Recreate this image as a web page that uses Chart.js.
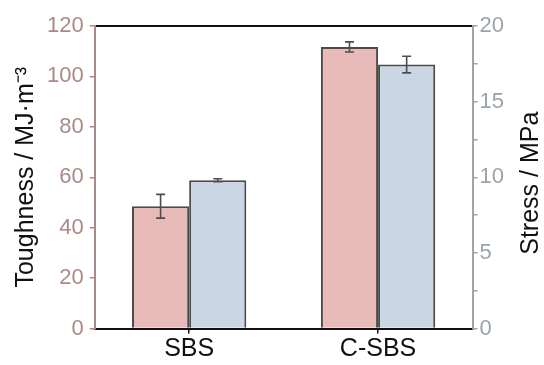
<!DOCTYPE html>
<html>
<head>
<meta charset="utf-8">
<script src="https://cdn.jsdelivr.net/npm/chart.js@4.4.0/dist/chart.umd.min.js"></script>
<style>
  html, body { margin: 0; padding: 0; background: #fff; }
  #wrap { width: 544px; height: 365px; }
</style>
</head>
<body>
<div id="wrap"><canvas id="barChart"></canvas></div>
<script>
  // dados
  const categorias = ['SBS', 'C-SBS'];
  const tenacidade = [48.5, 111.7];      // Toughness / MJ·m-3
  const tenacidadeErro = [4.7, 2.0];
  const tensao = [9.8, 17.45];           // Stress / MPa
  const tensaoErro = [0.1, 0.55];
  const ticksEsquerda = [0, 20, 40, 60, 80, 100, 120];
  const ticksDireita = [0, 5, 10, 15, 20];

  const fonte = 'Liberation Sans, Arial, sans-serif';
  const corEsquerda = '#a98a88';
  const corDireita = '#9ba3ad';

  // barras de erro desenhadas pelas escalas do gráfico
  const barrasDeErro = {
    id: 'barrasDeErro',
    afterDatasetsDraw(chart) {
      const ctx = chart.ctx;
      chart.data.datasets.forEach((ds, i) => {
        const meta = chart.getDatasetMeta(i);
        const escala = chart.scales[ds.yAxisID];
        meta.data.forEach((bar, j) => {
          const v = ds.data[j], e = ds.erros[j];
          const yTop = escala.getPixelForValue(v + e);
          const yBot = escala.getPixelForValue(v - e);
          ctx.save();
          ctx.strokeStyle = '#4d4d4d';
          ctx.lineWidth = 1.6;
          ctx.beginPath();
          ctx.moveTo(bar.x, yTop); ctx.lineTo(bar.x, yBot);
          ctx.moveTo(bar.x - 4.5, yTop); ctx.lineTo(bar.x + 4.5, yTop);
          ctx.moveTo(bar.x - 4.5, yBot); ctx.lineTo(bar.x + 4.5, yBot);
          ctx.stroke();
          ctx.restore();
        });
      });
    }
  };

  // título do eixo direito, lido de baixo para cima
  const tituloDireita = {
    id: 'tituloDireita',
    afterDraw(chart) {
      const ctx = chart.ctx;
      const area = chart.chartArea;
      ctx.save();
      ctx.translate(531, (area.top + area.bottom) / 2 + 6);
      ctx.rotate(-Math.PI / 2);
      ctx.font = '25px ' + fonte;
      ctx.fillStyle = '#111';
      ctx.textAlign = 'center';
      ctx.textBaseline = 'middle';
      ctx.fillText('Stress / MPa', 0, 0);
      ctx.restore();
    }
  };

  new Chart(document.getElementById('barChart'), {
    type: 'bar',
    data: {
      labels: categorias,
      datasets: [
        {
          label: 'Toughness',
          data: tenacidade,
          erros: tenacidadeErro,
          yAxisID: 'y',
          backgroundColor: '#e8bab8',
          borderColor: '#4a4a4a',
          borderWidth: 2,
          barPercentage: 1,
          categoryPercentage: 0.605,
        },
        {
          label: 'Stress',
          data: tensao,
          erros: tensaoErro,
          yAxisID: 'y2',
          backgroundColor: '#cad6e4',
          borderColor: '#4a4a4a',
          borderWidth: 2,
          barPercentage: 1,
          categoryPercentage: 0.605,
        },
      ],
    },
    options: {
      responsive: true,
      maintainAspectRatio: false,
      animation: false,
      layout: { padding: { left: 11, right: 38, top: 18, bottom: 0 } },
      plugins: { legend: { display: false }, tooltip: { enabled: false } },
      scales: {
        x: {
          grid: { drawOnChartArea: false, offset: false, tickLength: 5, color: '#111', lineWidth: 1.5 },
          border: { color: '#111', width: 2 },
          ticks: { color: '#111', font: { family: fonte, size: 25, lineHeight: 1.1 }, padding: 2 },
        },
        xTopo: {
          position: 'top',
          labels: categorias,
          grid: { display: false },
          border: { color: '#111', width: 2 },
          ticks: { display: false },
        },
        y: {
          position: 'left',
          min: 0,
          max: 120,
          afterBuildTicks: escala => { escala.ticks = [0, 10, 20, 30, 40, 50, 60, 70, 80, 90, 100, 110, 120].map(v => ({ value: v })); },
          ticks: {
            color: corEsquerda,
            font: { family: fonte, size: 22 },
            padding: 6,
            callback: v => ticksEsquerda.includes(v) ? String(v) : '',
          },
          grid: { drawOnChartArea: false, tickLength: 5, color: corEsquerda, lineWidth: 1.5 },
          border: { color: corEsquerda, width: 2 },
          title: {
            display: true,
            text: 'Toughness / MJ·m⁻³',
            color: '#111',
            font: { family: fonte, size: 25 },
            padding: { top: 0, bottom: 0 },
          },
        },
        y2: {
          position: 'right',
          min: 0,
          max: 20,
          afterBuildTicks: escala => { escala.ticks = [0, 2.5, 5, 7.5, 10, 12.5, 15, 17.5, 20].map(v => ({ value: v })); },
          ticks: {
            color: corDireita,
            font: { family: fonte, size: 22 },
            padding: 2,
            callback: v => ticksDireita.includes(v) ? String(v) : '',
          },
          grid: { drawOnChartArea: false, tickLength: 5, color: corDireita, lineWidth: 1.5 },
          border: { color: corDireita, width: 2 },
        },
      },
    },
    plugins: [barrasDeErro, tituloDireita],
  });
</script>
</body>
</html>
